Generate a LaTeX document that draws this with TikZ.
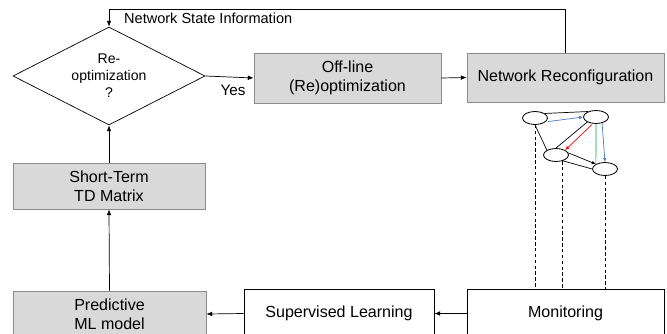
\documentclass[tikz,border=0pt]{standalone}
\usepackage{fontspec}
\setmainfont{Liberation Sans}
\usetikzlibrary{shapes.geometric,arrows.meta,shadows}
\definecolor{boxgray}{HTML}{D9D9D9}
\definecolor{edgegray}{HTML}{8C8C8C}
\definecolor{linkblue}{HTML}{4A7EBB}
\definecolor{linkgreen}{HTML}{00A550}
\tikzset{
  flow/.style={-{Latex[length=5pt,width=4pt]}, line width=0.6pt},
  graybox/.style={draw=edgegray, fill=boxgray, line width=0.6pt, align=center, inner sep=0pt,
    font=\fontsize{13.7}{16.5}\selectfont,
    drop shadow={shadow xshift=1pt, shadow yshift=-1pt, opacity=0.35}},
  whitebox/.style={draw=black, fill=white, line width=0.6pt, align=center, inner sep=0pt,
    font=\fontsize{13.7}{16.5}\selectfont},
  decision/.style={diamond, draw, aspect=2, line width=0.6pt, inner sep=0pt, align=center,
    minimum width=5.76cm, minimum height=2.94cm, font=\fontsize{12}{14.5}\selectfont},
  vnode/.style={ellipse, draw, line width=0.7pt, minimum width=0.75cm, minimum height=0.39cm, inner sep=0pt},
  link/.style={-{Latex[length=3.5pt,width=3pt]}, line width=0.6pt},
  probe/.style={dashed, line width=0.6pt, dash pattern=on 3pt off 2pt}
}

\begin{document}
\begin{tikzpicture}[x=0.03cm, y=-0.03cm]
			%%%%% START %%%%%
			\useasboundingbox (0, 0) rectangle (667, 334);
			
			\node[decision] (reopt) at (109, 76) {Re-\\optimization\\?};
			\node[graybox, minimum width=5.61cm, minimum height=1.5cm] (offline) at (347.5, 78) {Off-line\\(Re)optimization};
			\node[graybox, minimum width=5.91cm, minimum height=1.47cm] (reconf) at (565.5, 77.5) {Network Reconfiguration};
			\node[graybox, minimum width=5.76cm, minimum height=1.38cm] (shortterm) at (109, 186) {Short-Term\\TD Matrix};
			\node[graybox, minimum width=5.79cm, minimum height=1.38cm] (predictive) at (109.5, 314) {Predictive\\ML model};
			\node[whitebox, minimum width=5.7cm, minimum height=1.47cm] (supervised) at (339, 313.5) {Supervised Learning};
			\node[whitebox, minimum width=5.91cm, minimum height=1.47cm] (monitoring) at (565.5, 313.5) {Monitoring};
			
			\node[font=\fontsize{13}{15}\selectfont] (yes) at (233, 90) {Yes};
			\node[anchor=west, font=\fontsize{12.4}{15}\selectfont, inner sep=0pt] (nsi) at (124, 18) {Network State Information};
			\coordinate (fbcorner) at (109, 9);
			
			\draw[flow] (reopt.east) -- (offline.west);
			\draw[flow] (offline.east) -- (reconf.west);
			\draw[flow] (reconf.north) |- (fbcorner) -- (reopt.north);
			\draw[flow] (shortterm.north) -- (reopt.south);
			\draw[flow] (predictive.north) -- (shortterm.south);
			\draw[flow] (supervised.west) -- (predictive.east);
			\draw[flow] (monitoring.west) -- (supervised.east);
			
			% network graph
			\node[vnode] (na) at (535, 118) {};
			\node[vnode] (nb) at (596, 117) {};
			\node[vnode] (nc) at (556, 155) {};
			\node[vnode] (nd) at (605, 169) {};
			
			\draw[line width=0.6pt] (na.25) -- (nb.145);
			\draw[link, color=linkblue, shorten <=2pt] (na.-20) -- (nb.west);
			\draw[line width=0.6pt] (na.south) -- (nc.north west);
			\draw[line width=0.6pt] (nb.210) -- (nc.north);
			\draw[link, color=red, shorten <=1pt] (nb.245) -- (nc.north east);
			\draw[line width=0.6pt, color=linkgreen] (nb.south) -- (nd.north west);
			\draw[link, color=linkblue] (nb.-45) -- (nd.north);
			\draw[link] (nc.10) -- (nd.north west);
			\draw[line width=0.6pt] (nc.-40) -- (nd.west);
			
			\draw[probe] (na.south) -- (na.south |- monitoring.north);
			\draw[probe] (nc.-45) -- (nc.-45 |- monitoring.north);
			\draw[probe] (nd.south) -- (nd.south |- monitoring.north);
			
			%%%%% END %%%%%
\end{tikzpicture}
\end{document}
